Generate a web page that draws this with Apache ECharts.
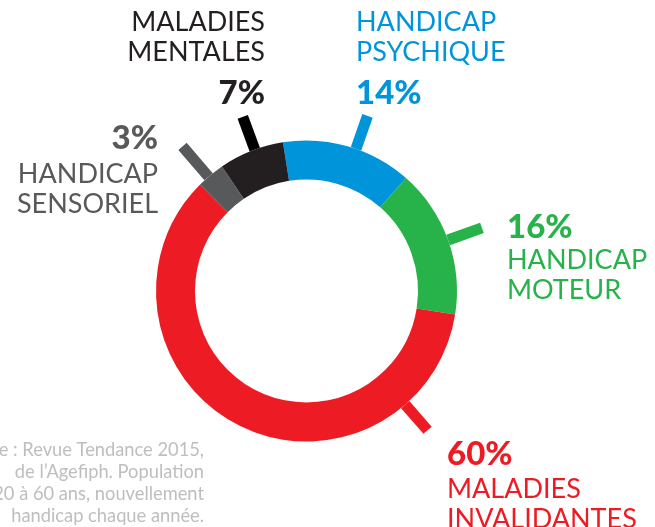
<!DOCTYPE html>
<html><head><meta charset="utf-8">
<script src="https://cdn.jsdelivr.net/npm/echarts@6/dist/echarts.min.js"></script>
<style>html,body{margin:0;padding:0;background:#fff}#c{width:655px;height:527px}</style>
</head><body><div id="c"></div>
<script>
// ---- data ----
const categories = ['HANDICAP\nPSYCHIQUE', 'HANDICAP\nMOTEUR', 'MALADIES\nINVALIDANTES', 'HANDICAP\nSENSORIEL', 'MALADIES\nMENTALES'];
const values = [14, 16, 60, 3, 7];
const sourceLines = ['Source : Revue Tendance 2015,', 'de l\u2019Agefiph. Population', 'de 20 à 60 ans, nouvellement', 'handicap chaque année.'];

// ---- styles / layout ----
const colors = ['#0095da', '#27b24a', '#ed1c24', '#58595b', '#231f20'];
const FONT = 'Lato';
const CENTER = [306.5, 291];
const TICK_W = 11;
const labelPos = [
  { x: 356, y: 8, align: 'left', nameFirst: true, pk: 'pa' },
  { x: 507, y: 208, align: 'left', nameFirst: false, pk: 'pc' },
  { x: 447, y: 433, align: 'left', nameFirst: false, pk: 'pd' },
  { x: 158, y: 116, align: 'right', nameFirst: false, pk: 'pb' },
  { x: 265, y: 8, align: 'right', nameFirst: true, pk: 'pa' }
];
const tickRotate = [3, 0, -68, -1, 1.5];
const tickLen = [35, 36, 34, 40, 35];

const pctStyle = lh => ({ fontFamily: FONT, fontSize: 33, fontWeight: 900, lineHeight: lh });
const rich = {
  n: { fontFamily: FONT, fontSize: 27, lineHeight: 29.5 },
  pa: pctStyle(52), pb: pctStyle(44), pc: pctStyle(38), pd: pctStyle(42)
};

const chart = echarts.init(document.getElementById('c'), null, { renderer: 'canvas' });

function rotatePts(pts, deg) {
  const a = deg * Math.PI / 180, c = Math.cos(a), s = Math.sin(a);
  return pts.map(p => {
    const dx = p[0] - CENTER[0], dy = p[1] - CENTER[1];
    return [CENTER[0] + dx * c - dy * s, CENTER[1] + dx * s + dy * c];
  });
}

chart.setOption({
  animation: false,
  backgroundColor: '#ffffff',
  series: [{
    type: 'pie',
    center: CENTER,
    radius: [111.5, 150.5],
    startAngle: 99,
    clockwise: true,
    avoidLabelOverlap: false,
    silent: true,
    minShowLabelAngle: 0,
    itemStyle: { borderWidth: 0 },
    label: {
      show: true,
      position: 'outside',
      formatter: p => {
        const lp = labelPos[p.dataIndex];
        const nameLines = p.name.split('\n').map(t => '{n|' + t + '}');
        const pct = '{' + lp.pk + '|' + p.value + '%}';
        return lp.nameFirst ? nameLines.concat([pct]).join('\n') : [pct].concat(nameLines).join('\n');
      },
      rich: rich
    },
    labelLine: {
      show: true,
      length: 36,
      length2: 0,
      smooth: false,
      lineStyle: { width: TICK_W, cap: 'butt' }
    },
    data: categories.map((c, i) => ({
      name: c,
      value: values[i],
      itemStyle: { color: colors[i] },
      label: { color: colors[i] },
      labelLine: { length: tickLen[i], lineStyle: { width: TICK_W, cap: 'butt', color: i === 4 ? '#000000' : colors[i] } }
    })),
    labelLayout: function (params) {
      const lp = labelPos[params.dataIndex];
      const out = { x: lp.x, y: lp.y, align: lp.align, verticalAlign: 'top' };
      if (params.labelLinePoints) {
        out.labelLinePoints = rotatePts(params.labelLinePoints, tickRotate[params.dataIndex]);
      }
      return out;
    }
  }],
  graphic: [{
    type: 'text',
    silent: true,
    style: {
      text: sourceLines.join('\n'),
      x: 204, y: 439,
      align: 'right', verticalAlign: 'top',
      fontFamily: FONT, fontSize: 18.3, lineHeight: 22,
      fill: '#bcbec0'
    }
  }]
});
</script>
</body></html>
